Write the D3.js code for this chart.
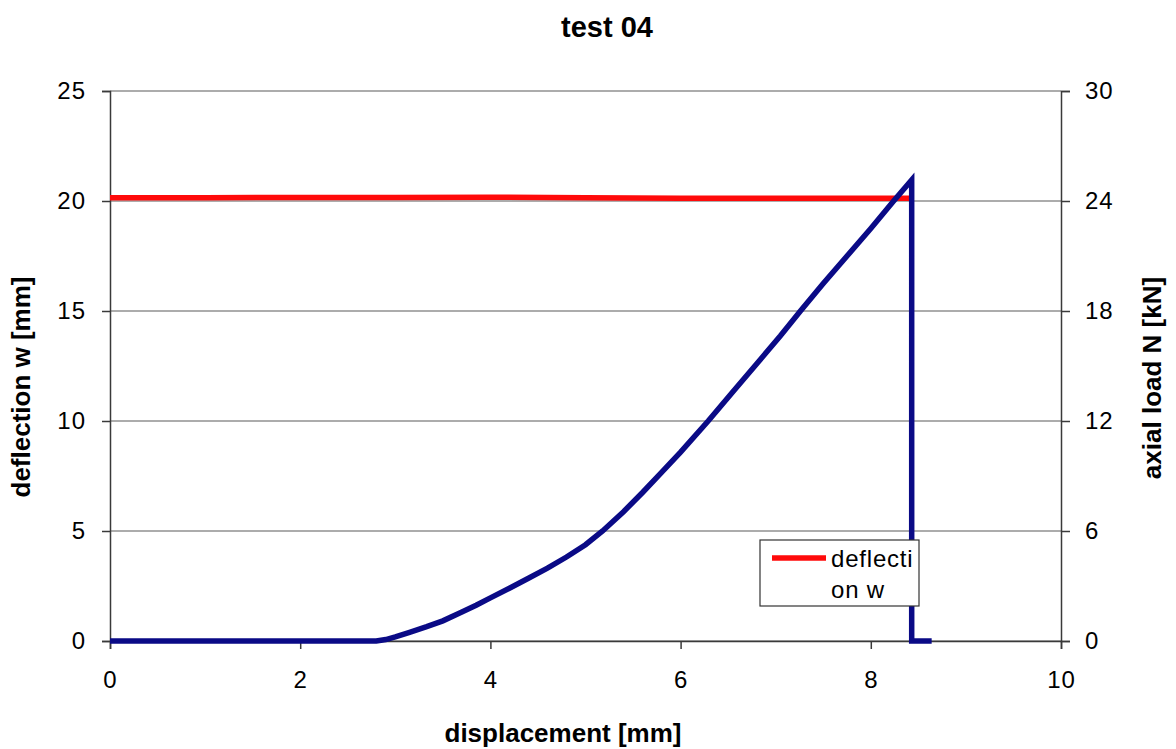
<!DOCTYPE html>
<html>
<head>
<meta charset="utf-8">
<script src="https://cdn.jsdelivr.net/npm/d3@7"></script>
<style>
  html, body { margin: 0; padding: 0; background: #fff; }
  svg { display: block; font-family: "Liberation Sans", Arial, sans-serif; }
</style>
</head>
<body>
<svg id="chart" width="1176" height="749"></svg>
<script>
// Deflection w [mm] against displacement [mm] (left axis)
const deflDisp = [0, 1, 2, 3, 4, 5, 6, 7, 8, 8.41];
const deflection = [20.15, 20.15, 20.16, 20.16, 20.17, 20.15, 20.13, 20.12, 20.12, 20.13];

// Axial load N [kN] against displacement [mm] (right axis)
const loadDisp = [0, 1.0, 2.0, 2.8, 2.9, 3.0, 3.15, 3.33, 3.5, 3.7, 3.85, 4.0, 4.2, 4.4, 4.6, 4.8, 5.0, 5.18,
                  5.4, 5.6, 5.8, 6.0, 6.29, 6.55, 6.83, 7.05, 7.26, 7.5, 7.75, 8.0, 8.24, 8.43, 8.43, 8.64];
const axialLoad = [0, 0, 0, 0, 0.08, 0.22, 0.47, 0.78, 1.1, 1.58, 1.95, 2.35, 2.88, 3.42, 3.97, 4.58, 5.25, 6.0,
                   7.05, 8.1, 9.2, 10.3, 12.0, 13.6, 15.3, 16.65, 18.0, 19.5, 21.0, 22.5, 24.0, 25.15, 0, 0];

// Tick values
const xTicks = [0, 2, 4, 6, 8, 10];
const leftTicks = [0, 5, 10, 15, 20, 25];
const rightTicks = [0, 6, 12, 18, 24, 30];

const chartTitle = "test 04";
const xTitle = "displacement [mm]";
const leftTitle = "deflection w [mm]";
const rightTitle = "axial load N [kN]";
const legendLabel = ["deflecti", "on w"];

const svg = d3.select("#chart");
const plot = { left: 110, right: 1061, top: 91, bottom: 641 };

const x = d3.scaleLinear().domain([0, 10]).range([plot.left, plot.right]);
const yL = d3.scaleLinear().domain([0, 25]).range([plot.bottom, plot.top]);
const yR = d3.scaleLinear().domain([0, 30]).range([plot.bottom, plot.top]);

// Horizontal gridlines
svg.append("g").selectAll("line").data(leftTicks).join("line")
  .attr("x1", plot.left).attr("x2", plot.right)
  .attr("y1", d => yL(d)).attr("y2", d => yL(d))
  .attr("stroke", "#5a5a5a").attr("stroke-width", 1.2);

// Axes
const tickFont = 24;
function styleAxis(g) {
  g.selectAll(".domain").attr("stroke", "#3a3a3a").attr("stroke-width", 1.5);
  g.selectAll(".tick line").attr("stroke", "#3a3a3a").attr("stroke-width", 1.5);
  g.selectAll(".tick text").attr("fill", "#000").attr("font-size", tickFont)
    .attr("font-family", "Liberation Sans, Arial, sans-serif").attr("letter-spacing", 1);
}

svg.append("g").attr("transform", `translate(0,${plot.bottom})`)
  .call(d3.axisBottom(x).tickValues(xTicks).tickFormat(d3.format("d")).tickSizeOuter(0).tickSize(8).tickPadding(22))
  .call(styleAxis);

svg.append("g").attr("transform", `translate(${plot.left},0)`)
  .call(d3.axisLeft(yL).tickValues(leftTicks).tickFormat(d3.format("d")).tickSizeOuter(0).tickSize(8).tickPadding(16))
  .call(styleAxis);

svg.append("g").attr("transform", `translate(${plot.right},0)`)
  .call(d3.axisRight(yR).tickValues(rightTicks).tickFormat(d3.format("d")).tickSizeOuter(0).tickSize(9).tickPadding(15))
  .call(styleAxis);

// Series
const deflLine = d3.line().x((d, i) => x(deflDisp[i])).y(d => yL(d));
svg.append("path").datum(deflection)
  .attr("d", deflLine)
  .attr("fill", "none").attr("stroke", "#ff0a0a").attr("stroke-width", 5.5);

const loadLine = d3.line().x((d, i) => x(loadDisp[i])).y(d => yR(d));
svg.append("path").datum(axialLoad)
  .attr("d", loadLine)
  .attr("fill", "none").attr("stroke", "#0a0a86").attr("stroke-width", 5.5)
  .attr("stroke-linejoin", "miter");

// Titles
svg.append("text").text(chartTitle)
  .attr("x", 607).attr("y", 37).attr("text-anchor", "middle")
  .attr("font-size", 29).attr("font-weight", "bold");

svg.append("text").text(xTitle)
  .attr("x", 563).attr("y", 742).attr("text-anchor", "middle")
  .attr("font-size", 26).attr("font-weight", "bold");

svg.append("text").text(leftTitle)
  .attr("transform", "translate(30,387) rotate(-90)").attr("text-anchor", "middle")
  .attr("font-size", 26).attr("font-weight", "bold");

svg.append("text").text(rightTitle)
  .attr("transform", "translate(1161,378) rotate(-90)").attr("text-anchor", "middle")
  .attr("font-size", 26).attr("font-weight", "bold");

// Legend
const lg = svg.append("g").attr("transform", "translate(760,540)");
lg.append("rect").attr("width", 159).attr("height", 66)
  .attr("fill", "#fff").attr("stroke", "#333").attr("stroke-width", 1.2);
lg.append("line").attr("x1", 12).attr("x2", 66).attr("y1", 18).attr("y2", 18)
  .attr("stroke", "#ff0a0a").attr("stroke-width", 5.5);
lg.selectAll("text.lbl").data(legendLabel).join("text").attr("class", "lbl")
  .text(d => d)
  .attr("x", 71).attr("y", (d, i) => 27 + i * 31)
  .attr("font-size", 24).attr("letter-spacing", 0.8);
</script>
</body>
</html>
